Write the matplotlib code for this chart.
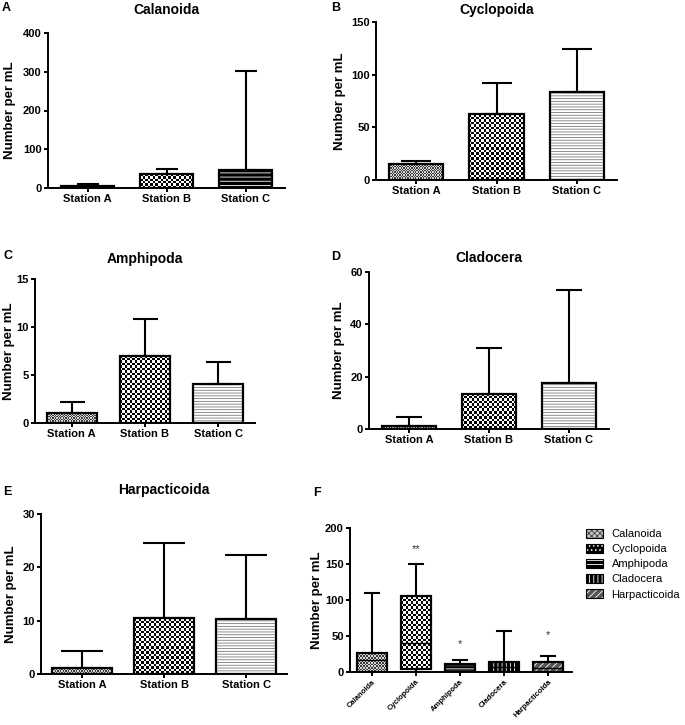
import numpy as np
import matplotlib
matplotlib.use("Agg")
import matplotlib.pyplot as plt
from matplotlib.patches import Patch, PathPatch
from matplotlib.colors import ListedColormap

plt.rcParams['font.family'] = ['Liberation Sans', 'DejaVu Sans']
plt.rcParams['font.weight'] = 'bold'
plt.rcParams['hatch.linewidth'] = 0.6

stations = ['Station A', 'Station B', 'Station C']

# panels A-E: bar height (mean) and top of the error bar
cal_mean = [6, 36, 46]
cal_top = [10, 50, 302]
cyc_mean = [15.2, 62.5, 83.5]
cyc_top = [18.3, 92.4, 124]
amp_mean = [1.07, 7.0, 4.1]
amp_top = [2.2, 10.8, 6.4]
cla_mean = [1.1, 13.4, 17.7]
cla_top = [4.5, 30.8, 53]
har_mean = [1.1, 10.5, 10.3]
har_top = [4.4, 24.6, 22.3]

# panel F: box plot statistics
groups = ['Calanoida', 'Cyclopoida', 'Amphipoda', 'Cladocera', 'Harpacticoida']
box_low = [0, 0, 0, 0, 0]
box_q1 = [0, 4.2, 0, 0, 0]
box_med = [16, 40, 6.5, 7, 6]
box_q3 = [26.8, 105.5, 10.6, 13.9, 13.4]
box_high = [110, 150, 16, 57, 22.6]
stars = ['', '**', '*', '', '*']
star_y = [0, 171, 39, 0, 51]

W, H = 685, 725
fig = plt.figure(figsize=(W / 100, H / 100), dpi=100)


def add_ax(x0, x1, ytop, ybot):
    return fig.add_axes([x0 / W, 1 - ybot / H, (x1 - x0) / W, (ybot - ytop) / H])


def checker(ax, patch, cell, c1, c2):
    bb = patch.get_window_extent()
    nx = max(1, int(round(bb.width / cell)))
    ny = max(1, int(round(bb.height / cell)))
    img = np.add.outer(np.arange(ny), np.arange(nx)) % 2
    inv = ax.transData.inverted()
    (x0, y0), (x1, y1) = inv.transform([[bb.x0, bb.y0], [bb.x1, bb.y1]])
    ax.imshow(img, extent=(x0, x1, y0, y1), cmap=ListedColormap([c1, c2]),
              interpolation='nearest', aspect='auto', clip_path=patch,
              zorder=patch.get_zorder() + 0.1)


def overlay(ax, patch, fc, hc, hatch):
    p = PathPatch(patch.get_path(), transform=patch.get_transform(), facecolor=fc,
                  edgecolor=hc, hatch=hatch, linewidth=0, zorder=patch.get_zorder() + 0.1)
    ax.add_patch(p)


def style(ax, px, ylab_right, ylim, yticks):
    x0, x1, ytop, ybot = px
    for s in ['top', 'right']:
        ax.spines[s].set_visible(False)
    for s in ['left', 'bottom']:
        ax.spines[s].set_linewidth(1.4)
    ax.tick_params(direction='out', length=3, width=1.4, labelsize=8, pad=1.5)
    ax.set_ylim(*ylim)
    ax.set_yticks(yticks)
    ax.set_ylabel('Number per mL', fontsize=9.5, fontweight='bold')
    ax.yaxis.set_label_coords((ylab_right - x0) / (x1 - x0), 0.5)


def station_panel(px, means, tops, title, pad, ylim, yticks, cap_px, ylab_right,
                  width=0.68, dark_c=False):
    ax = add_ax(*px)
    x = np.arange(3)
    means = np.array(means)
    tops = np.array(tops)
    ax.set_xlim(-0.5, 2.5)
    style(ax, px, ylab_right, ylim, yticks)
    base = ax.bar(x, means, width, color='white', linewidth=0, zorder=2)
    checker(ax, base[0], 1.3, '#3c3c3c', '#d8d8d8')
    checker(ax, base[1], 2.5, 'black', 'white')
    if dark_c:
        overlay(ax, base[2], 'black', 'white', '----')
    else:
        overlay(ax, base[2], 'white', '#7a7a7a', '------')
    ax.bar(x, means, width, fill=False, edgecolor='black', linewidth=1.6, zorder=3)
    ax.errorbar(x, means, yerr=[np.zeros(3), tops - means], fmt='none', ecolor='black',
                elinewidth=1.5, capsize=cap_px / 2 * 0.72, capthick=1.5, zorder=4)
    ax.set_xticks(x, stations)
    ax.set_xlim(-0.5, 2.5)
    ax.set_ylim(*ylim)
    ax.set_title(title, fontsize=10, fontweight='bold', pad=pad)
    return ax


station_panel((48, 285, 33, 188), cal_mean, cal_top, 'Calanoida', 13.7, (0, 400),
              [0, 100, 200, 300, 400], 23, 16, dark_c=True)
station_panel((376, 617, 22, 180), cyc_mean, cyc_top, 'Cyclopoida', 5.8, (0, 150),
              [0, 50, 100, 150], 30, 346)
station_panel((35, 255, 279, 423), amp_mean, amp_top, 'Amphipoda', 11.5, (0, 15),
              [0, 5, 10, 15], 25, 15)
station_panel((369, 609, 272, 429), cla_mean, cla_top, 'Cladocera', 7.2, (0, 60),
              [0, 20, 40, 60], 27, 345)
station_panel((41, 287, 514, 674), har_mean, har_top, 'Harpacticoida', 14.4, (0, 30),
              [0, 10, 20, 30], 42, 17, width=0.72)

# panel F
pxf = (350, 572, 528, 672)
axf = add_ax(*pxf)
axf.set_xlim(-0.5, 4.55)
style(axf, pxf, 323, (0, 200), [0, 50, 100, 150, 200])
stats = [dict(whislo=l, q1=a, med=m, q3=b, whishi=h, label=g)
         for g, l, a, m, b, h in zip(groups, box_low, box_q1, box_med, box_q3, box_high)]
bp = axf.bxp(stats, positions=np.arange(5), widths=0.68, patch_artist=True,
             showfliers=False, capwidths=0.32,
             boxprops=dict(facecolor='white', linewidth=0, zorder=2),
             whiskerprops=dict(color='black', linewidth=1.5, zorder=3),
             capprops=dict(color='black', linewidth=1.5, zorder=3),
             medianprops=dict(color='black', linewidth=1.0, zorder=3.5))
axf.set_xlim(-0.5, 4.55)
axf.set_ylim(0, 200)
boxes = bp['boxes']
checker(axf, boxes[0], 1.6, '#3c3c3c', '#d8d8d8')
checker(axf, boxes[1], 2.5, 'black', 'white')
overlay(axf, boxes[2], '#222222', 'white', '----')
overlay(axf, boxes[3], 'black', 'white', '||||')
overlay(axf, boxes[4], '#555555', 'white', '/////')
for b in boxes:
    axf.add_patch(PathPatch(b.get_path(), transform=b.get_transform(), fill=False,
                            edgecolor='black', linewidth=1.6, zorder=3.2))
for i, s in enumerate(stars):
    if s:
        axf.text(i, star_y[i], s, ha='center', va='center', fontsize=8,
                 fontweight='normal', color='#333333')
axf.set_xticks(np.arange(5), groups, rotation=45, ha='right', rotation_mode='anchor',
               fontsize=5.5)
axf.set_xlim(-0.5, 4.55)
axf.set_ylim(0, 200)

outline = dict(fill=False, edgecolor='black', linewidth=0.8)
handles = [
    (Patch(facecolor='#c8c8c8', edgecolor='#3c3c3c', hatch='xxxxxx', linewidth=0), Patch(**outline)),
    (Patch(facecolor='black', edgecolor='white', hatch='....', linewidth=0), Patch(**outline)),
    (Patch(facecolor='black', edgecolor='white', hatch='----', linewidth=0), Patch(**outline)),
    (Patch(facecolor='black', edgecolor='white', hatch='||||', linewidth=0), Patch(**outline)),
    (Patch(facecolor='#555555', edgecolor='white', hatch='/////', linewidth=0), Patch(**outline)),
]
fig.legend(handles, groups, loc='upper left', bbox_to_anchor=(586 / W, 1 - 529 / H),
           frameon=False, prop=dict(size=8, weight='normal'), handlelength=1.5,
           handleheight=0.8, handletextpad=0.8, labelspacing=0.45, borderaxespad=0,
           borderpad=0)

# panel letters
for lab, lx, ly in [('A', 2, 8), ('B', 331, 8), ('C', 3, 256), ('D', 331, 257),
                    ('E', 3, 492), ('F', 313, 493)]:
    fig.text(lx / W, 1 - ly / H, lab, fontsize=9, fontweight='bold', ha='left', va='center')

fig.savefig('out.png', dpi=100)
